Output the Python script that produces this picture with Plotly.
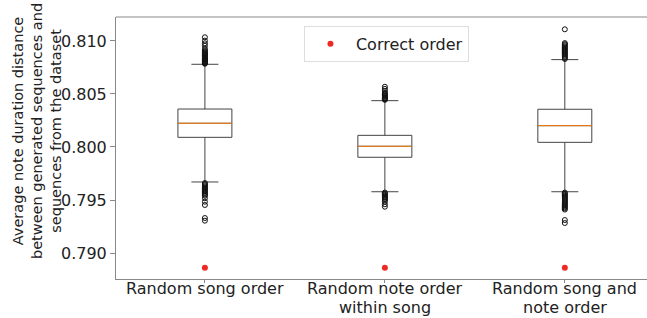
import plotly.graph_objects as go

# ---- data ----
positions = [1, 2, 3]
tick_labels = ["Random song order", "Random note order\nwithin song", "Random song and\nnote order"]
lower_fence = [0.7967, 0.79578, 0.79578]
q1_vals = [0.80091, 0.79903, 0.80044]
median_vals = [0.80224, 0.80007, 0.80201]
q3_vals = [0.80358, 0.80110, 0.80356]
upper_fence = [0.80780, 0.80437, 0.80824]

outliers_1 = [0.80785, 0.8079, 0.80795, 0.8080, 0.80805, 0.8081, 0.80815, 0.8082, 0.80825, 0.8083,
              0.80835, 0.8084, 0.80848, 0.80855, 0.80862, 0.8087, 0.80878, 0.80885, 0.80893, 0.8090,
              0.80912, 0.80927, 0.80955, 0.80978, 0.81003, 0.81035,
              0.7966, 0.7965, 0.7964, 0.7963, 0.7962, 0.7961, 0.7960, 0.7959, 0.7958, 0.7957,
              0.7956, 0.7955, 0.7954, 0.79516, 0.79484, 0.79453, 0.7933, 0.79305]
outliers_2 = [0.80445, 0.8045, 0.80458, 0.80465, 0.80472, 0.8048, 0.80487, 0.80495, 0.80502, 0.8051,
              0.8053, 0.80548, 0.80568,
              0.7957, 0.7956, 0.7955, 0.7954, 0.7953, 0.7952, 0.7951, 0.7950, 0.79485, 0.7946, 0.79437]
outliers_3 = [0.8083, 0.8084, 0.8085, 0.8086, 0.8087, 0.8088, 0.8089, 0.8090, 0.8091, 0.8092,
              0.8093, 0.8094, 0.8095, 0.8096, 0.8097, 0.8098, 0.8111,
              0.7957, 0.7956, 0.7955, 0.7954, 0.7953, 0.7952, 0.7951, 0.7950, 0.7949, 0.7948,
              0.7947, 0.7946, 0.7945, 0.7944, 0.7943, 0.7942, 0.7941, 0.79311, 0.79283]
outliers = [outliers_1, outliers_2, outliers_3]
correct_order = [0.7886, 0.7886, 0.7886]

y_ticks = [0.790, 0.795, 0.800, 0.805, 0.810]
y_title = "Average note duration distance<br>between generated sequences and<br>sequences from the dataset"

# ---- styles ----
FONT = "DejaVu Sans"
TXT = "#222222"
BOX_W = 0.3
PLOT_H = 262  # plot area height in px (for placing the x label lines)

fig = go.Figure()
for i, p in enumerate(positions):
    fig.add_trace(go.Box(
        x=[p], q1=[q1_vals[i]], median=[median_vals[i]], q3=[q3_vals[i]],
        lowerfence=[lower_fence[i]], upperfence=[upper_fence[i]],
        width=BOX_W, whiskerwidth=0.5, boxpoints=False,
        fillcolor="rgba(255,255,255,0)", line=dict(color="#444444", width=1),
        showlegend=False, hoverinfo="skip"))
    fig.add_trace(go.Scatter(
        x=[p - BOX_W / 2, p + BOX_W / 2], y=[median_vals[i], median_vals[i]],
        mode="lines", line=dict(color="#ff7f0e", width=1), showlegend=False))
    fig.add_trace(go.Scatter(
        x=[p] * len(outliers[i]), y=outliers[i], mode="markers",
        marker=dict(symbol="circle-open", size=5, color="#111111", line=dict(width=1)),
        showlegend=False))

fig.add_trace(go.Scatter(
    x=positions, y=correct_order, mode="markers", name="Correct order",
    marker=dict(symbol="circle", size=6, color="#ee2a24")))

# x tick labels: one annotation per line so the line spacing matches
annots = []
for p, lab in zip(positions, tick_labels):
    for j, line in enumerate(lab.split("\n")):
        annots.append(dict(text=line, xref="x", yref="paper", x=p,
                           y=-(9.5 + j * 18.6) / PLOT_H, xanchor="center", yanchor="middle",
                           showarrow=False, borderpad=0, font=dict(size=16, color=TXT)))
annots.append(dict(text=y_title, xref="paper", yref="paper", x=-0.147, y=0.565,
                   xanchor="center", yanchor="middle", textangle=-90, showarrow=False,
                   font=dict(size=14.5, color=TXT)))

fig.update_layout(
    width=660, height=318,
    margin=dict(l=116, r=7, t=17, b=39),
    paper_bgcolor="white", plot_bgcolor="white",
    font=dict(family=FONT, size=16, color=TXT),
    legend=dict(x=0.35, y=0.966, xanchor="left", yanchor="top", itemwidth=41,
                bordercolor="#dddddd", borderwidth=1, bgcolor="white",
                font=dict(size=16, color=TXT)),
    xaxis=dict(range=[0.506, 3.49], tickvals=positions, showticklabels=False,
               showgrid=False, zeroline=False, showline=True, linecolor="#888888", linewidth=1,
               ticks="outside", ticklen=3, tickcolor="#888888", automargin=False),
    yaxis=dict(range=[0.78755, 0.81226], tickvals=y_ticks, tickformat=".3f",
               showgrid=False, zeroline=False, showline=True, linecolor="#888888", linewidth=1,
               ticks="outside", ticklen=5, tickcolor="#888888", automargin=False,
               tickfont=dict(size=16, color=TXT)),
    shapes=[dict(type="line", xref="paper", yref="paper", x0=0, x1=1, y0=1, y1=1,
                 line=dict(color="#888888", width=1))],
    annotations=annots,
)

fig.write_html("out.html", config={"displayModeBar": False},
               post_script="document.body.style.margin='0';document.body.style.overflow='hidden';")
